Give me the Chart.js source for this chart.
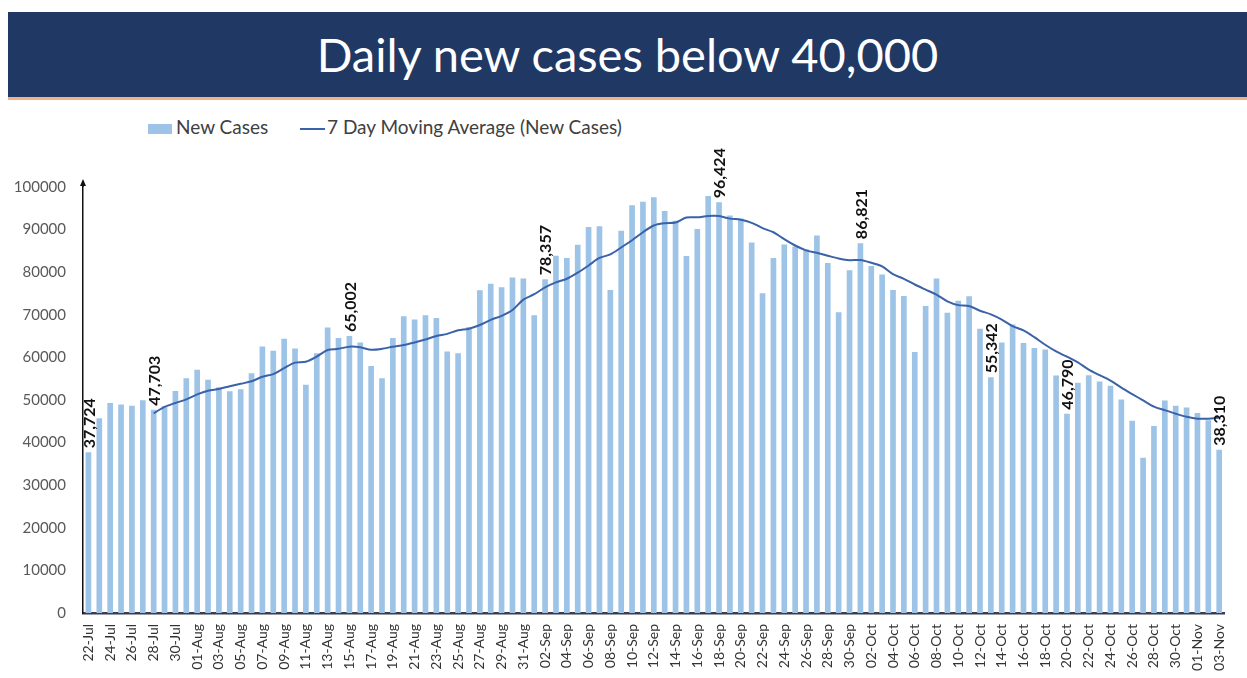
<!DOCTYPE html>
<html>
<head>
<meta charset="utf-8">
<script src="https://cdn.jsdelivr.net/npm/chart.js@4.4.1/dist/chart.umd.min.js"></script>
<style>
    html, body { margin: 0; padding: 0; background: #fff; }
    body { width: 1247px; height: 678px; position: relative; overflow: hidden; font-family: Lato, "Open Sans", sans-serif; }
    #banner {
        position: absolute; left: 8px; top: 12px; width: 1239px; height: 85px;
        background: #1f3864; border-bottom: 3px solid #f0b28a;
        color: #fff; font-size: 47px; text-align: center; line-height: 84px;
    }
    #legend { position: absolute; top: 116px; left: 0; height: 22px; font-size: 19px; color: #404040; }
    .lg-item { position: absolute; top: 0; white-space: nowrap; line-height: 22px; }
    .lg-box { display: inline-block; width: 24px; height: 10px; background: #9dc3e6; vertical-align: middle; margin-right: 4px; }
    .lg-line { display: inline-block; width: 25px; height: 2px; background: #3a62a8; vertical-align: middle; margin-right: 2px; }
    #chart-wrap { position: absolute; left: 0; top: 100px; width: 1247px; height: 578px; }
</style>
</head>
<body>
<div id="banner">Daily new cases below 40,000</div>
<div id="legend">
    <span class="lg-item" style="left:148px"><span class="lg-box"></span>New Cases</span>
    <span class="lg-item" style="left:300px"><span class="lg-line"></span>7 Day Moving Average (New Cases)</span>
</div>
<div id="chart-wrap"><canvas id="casesChart"></canvas></div>
<script>
// dates 22-Jul .. 03-Nov
const dates = [
    '22-Jul','23-Jul','24-Jul','25-Jul','26-Jul','27-Jul','28-Jul','29-Jul','30-Jul','31-Jul',
    '01-Aug','02-Aug','03-Aug','04-Aug','05-Aug','06-Aug','07-Aug','08-Aug','09-Aug','10-Aug',
    '11-Aug','12-Aug','13-Aug','14-Aug','15-Aug','16-Aug','17-Aug','18-Aug','19-Aug','20-Aug',
    '21-Aug','22-Aug','23-Aug','24-Aug','25-Aug','26-Aug','27-Aug','28-Aug','29-Aug','30-Aug','31-Aug',
    '01-Sep','02-Sep','03-Sep','04-Sep','05-Sep','06-Sep','07-Sep','08-Sep','09-Sep','10-Sep',
    '11-Sep','12-Sep','13-Sep','14-Sep','15-Sep','16-Sep','17-Sep','18-Sep','19-Sep','20-Sep',
    '21-Sep','22-Sep','23-Sep','24-Sep','25-Sep','26-Sep','27-Sep','28-Sep','29-Sep','30-Sep',
    '01-Oct','02-Oct','03-Oct','04-Oct','05-Oct','06-Oct','07-Oct','08-Oct','09-Oct','10-Oct',
    '11-Oct','12-Oct','13-Oct','14-Oct','15-Oct','16-Oct','17-Oct','18-Oct','19-Oct','20-Oct',
    '21-Oct','22-Oct','23-Oct','24-Oct','25-Oct','26-Oct','27-Oct','28-Oct','29-Oct','30-Oct','31-Oct',
    '01-Nov','02-Nov','03-Nov'
];

const newCases = [
    37724, 45720, 49310, 48916, 48661, 49931, 47703, 48513, 52123, 55079,
    57118, 54735, 52972, 52050, 52509, 56282, 62538, 61537, 64399, 62064,
    53601, 60963, 66999, 64553, 65002, 63490, 57982, 55079, 64531, 69652,
    68898, 69878, 69239, 61408, 60975, 67151, 75760, 77266, 76472, 78761, 78512,
    69921, 78357, 83883, 83341, 86432, 90632, 90802, 75809, 89706, 95735,
    96551, 97570, 94372, 92071, 83809, 90123, 97894, 96424, 93337, 92605,
    86961, 75083, 83347, 86508, 86052, 85362, 88600, 82170, 70589, 80472,
    86821, 81484, 79476, 75829, 74442, 61267, 72049, 78524, 70496, 73272,
    74383, 66732, 55342, 63509, 67708, 63371, 62212, 61871, 55722, 46790,
    54044, 55838, 54366, 53370, 50129, 45148, 36470, 43893, 49881, 48648, 48268,
    46963, 45231, 38310
];

const movingAvg = [
    null, null, null, null, null, null, 46852, 48393, 49308, 50132,
    51304, 52172, 52606, 53227, 53798, 54392, 55458, 56089, 57470, 58768,
    58990, 60198, 61729, 62017, 62512, 62382, 61799, 62010, 62519, 62898,
    63519, 64216, 65037, 65526, 66369, 66743, 67616, 68811, 69753, 71113, 73557,
    74835, 76436, 77596, 78464, 79887, 81583, 83338, 84179, 85801, 87494,
    89381, 90972, 91506, 91688, 92831, 92890, 93199, 93180, 92576, 92323,
    91593, 90347, 89379, 87752, 86270, 85131, 84559, 83875, 83233, 82822,
    82867, 82214, 81373, 79549, 78445, 77113, 75910, 74724, 73155, 72268,
    72062, 70960, 70114, 68894, 67349, 66331, 64751, 62964, 61391, 60169,
    58817, 57121, 55835, 54572, 52894, 51384, 49909, 48459, 47608, 46791, 46062,
    45610, 45622, 45885
];

// bars that carry a value label
const labelledDates = ['22-Jul', '28-Jul', '15-Aug', '02-Sep', '18-Sep', '01-Oct', '13-Oct', '20-Oct', '03-Nov'];

const yTicks = [0, 10000, 20000, 30000, 40000, 50000, 60000, 70000, 80000, 90000, 100000];

const barLabels = {
    id: 'barLabels',
    afterDatasetsDraw(chart) {
        const ctx = chart.ctx;
        const meta = chart.getDatasetMeta(1); // the bar dataset
        ctx.save();
        ctx.font = 'bold 16px Lato, sans-serif';
        ctx.fillStyle = '#111';
        ctx.textAlign = 'left';
        ctx.textBaseline = 'middle';
        labelledDates.forEach(d => {
            const i = dates.indexOf(d);
            const bar = meta.data[i];
            ctx.save();
            ctx.translate(bar.x + 1, bar.y - 4);
            ctx.rotate(-Math.PI / 2);
            ctx.fillText(newCases[i].toLocaleString('en-US'), 0, 0);
            ctx.restore();
        });
        ctx.restore();
    }
};

const axisArrow = {
    id: 'axisArrow',
    afterDraw(chart) {
        const { ctx, chartArea } = chart;
        const x = chartArea.left;
        const top = chartArea.top;
        ctx.save();
        ctx.strokeStyle = '#111';
        ctx.fillStyle = '#111';
        ctx.lineWidth = 1.5;
        ctx.beginPath();
        ctx.moveTo(x, top);
        ctx.lineTo(x, top - 3);
        ctx.stroke();
        ctx.beginPath();
        ctx.moveTo(x, top - 8);
        ctx.lineTo(x - 3, top - 1);
        ctx.lineTo(x + 3, top - 1);
        ctx.closePath();
        ctx.fill();
        ctx.restore();
    }
};

new Chart(document.getElementById('casesChart'), {
    type: 'bar',
    data: {
        labels: dates,
        datasets: [{
            type: 'line',
            label: '7 Day Moving Average (New Cases)',
            data: movingAvg,
            borderColor: '#3a62a8',
            borderWidth: 2,
            pointRadius: 0,
            tension: 0.3,
            fill: false,
            order: 0
        }, {
            label: 'New Cases',
            data: newCases,
            backgroundColor: '#9dc3e6',
            barPercentage: 0.52,
            categoryPercentage: 1,
            order: 1
        }]
    },
    options: {
        responsive: true,
        maintainAspectRatio: false,
        animation: false,
        layout: { padding: { top: 87, right: 1, left: 0, bottom: 0 } },
        plugins: {
            legend: { display: false },
            tooltip: { enabled: false }
        },
        scales: {
            x: {
                grid: { display: false, drawTicks: false },
                border: { display: true, color: '#3b3d4a', width: 2.5 },
                afterFit: scale => { scale.height = 65; },
                ticks: {
                    autoSkip: false,
                    minRotation: 90,
                    maxRotation: 90,
                    padding: 11,
                    color: '#333',
                    font: { family: 'Lato', size: 14 },
                    callback: (v, i) => (i % 2 === 0 ? dates[i] : '')
                }
            },
            y: {
                min: 0,
                max: 100000,
                afterFit: scale => { scale.width = 83; },
                afterBuildTicks: scale => { scale.ticks = yTicks.map(v => ({ value: v })); },
                grid: { display: false, drawTicks: false },
                border: { display: true, color: '#111', width: 1.5 },
                ticks: {
                    padding: 17,
                    color: '#595959',
                    font: { family: 'Lato', size: 15 },
                    callback: v => String(v)
                }
            }
        }
    },
    plugins: [barLabels, axisArrow]
});
</script>
</body>
</html>
